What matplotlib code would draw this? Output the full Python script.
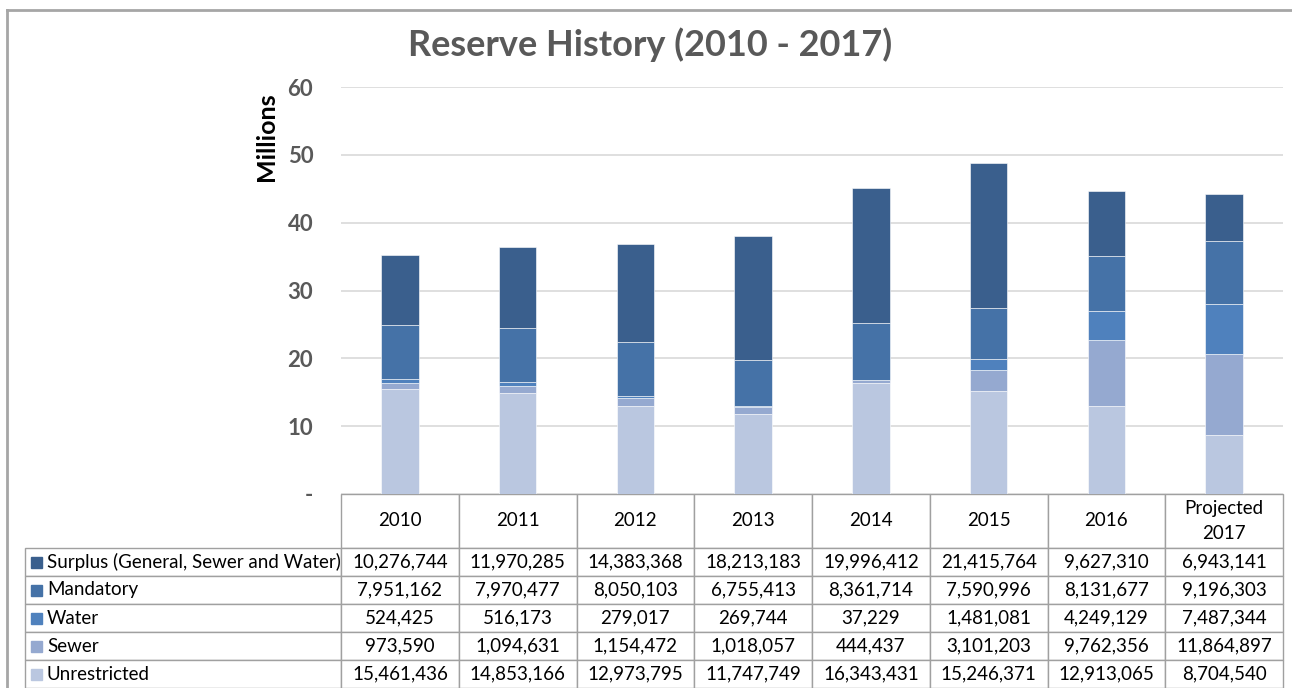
import matplotlib.pyplot as plt
import numpy as np
from matplotlib.table import Table
from matplotlib.patches import Rectangle
from matplotlib.lines import Line2D

plt.rcParams['font.family'] = ['Lato', 'DejaVu Sans']

anos = ['2010', '2011', '2012', '2013', '2014', '2015', '2016', 'Projected\n2017']

# reservas por categoria (dolares)
surplus = [10276744, 11970285, 14383368, 18213183, 19996412, 21415764, 9627310, 6943141]
mandatory = [7951162, 7970477, 8050103, 6755413, 8361714, 7590996, 8131677, 9196303]
water = [524425, 516173, 279017, 269744, 37229, 1481081, 4249129, 7487344]
sewer = [973590, 1094631, 1154472, 1018057, 444437, 3101203, 9762356, 11864897]
unrestricted = [15461436, 14853166, 12973795, 11747749, 16343431, 15246371, 12913065, 8704540]

nomes = ['Surplus (General, Sewer and Water)', 'Mandatory', 'Water', 'Sewer', 'Unrestricted']
cores = ['#3A5F8D', '#4572A7', '#4F81BD', '#95A9D0', '#BAC7E0']
series = [surplus, mandatory, water, sewer, unrestricted]

fig = plt.figure(figsize=(12.92, 6.88), dpi=100)
ax = fig.add_axes([341 / 1292, 1 - 494 / 688, 942 / 1292, 407 / 688])

x = np.arange(len(anos))
base = np.zeros(len(anos))
# empilha de baixo para cima: unrestricted primeiro
for nome, cor, vals in zip(nomes[::-1], cores[::-1], series[::-1]):
    v = np.array(vals) / 1e6
    ax.bar(x, v, 0.32, bottom=base, color=cor, edgecolor='white', linewidth=0.4, zorder=3)
    base = base + v

ax.set_xlim(-0.5, len(anos) - 0.5)
ax.set_ylim(0, 60)
ax.set_yticks(range(0, 70, 10))
ax.set_yticklabels(['-', '10', '20', '30', '40', '50', '60'])
ax.tick_params(axis='y', length=0, pad=20, labelsize=16, labelcolor='#595959')
for t in ax.get_yticklabels():
    t.set_fontweight('bold')
ax.set_xticks([])
ax.yaxis.grid(True, color='#D9D9D9', linewidth=1.2, zorder=0)
for s in ax.spines.values():
    s.set_visible(False)

fig.text(266 / 1292, 1 - 137 / 688, 'Millions', rotation=90, ha='center', va='center',
         fontsize=18, fontweight='bold', color='black')
fig.text(650 / 1292, 1 - 45 / 688, 'Reserve History (2010 - 2017)', ha='center', va='center',
         fontsize=26, fontweight='bold', color='#595959')

# tabela de dados embaixo do grafico (bbox so cobre as colunas de dados)
larg_rot = 316 / 942
larg_col = 1 / len(anos)
alt_cab = 54 / 407
alt_lin = 28 / 407
alt_tab = alt_cab + 5 * alt_lin
tab = Table(ax, bbox=[0, -alt_tab, 1, alt_tab])
borda = '#A0A0A0'
for j, ano in enumerate(anos):
    c = tab.add_cell(0, j, larg_col, alt_cab, text=ano, loc='center', edgecolor=borda)
    c.get_text().set_linespacing(1.6)
for i, (nome, vals) in enumerate(zip(nomes, series)):
    c = tab.add_cell(i + 1, -1, larg_rot, alt_lin, text=nome, loc='left', edgecolor=borda)
    c.PAD = 22 / 316
    for j, v in enumerate(vals):
        tab.add_cell(i + 1, j, larg_col, alt_lin, text=f'{v:,}', loc='center', edgecolor=borda)
tab.auto_set_font_size(False)
tab.set_fontsize(13.5)
ax.add_table(tab)

# quadradinhos da legenda
for i, cor in enumerate(cores):
    yc = -(alt_cab + (i + 0.5) * alt_lin)
    ax.add_patch(Rectangle((-larg_rot + 6 / 942, yc - 5.5 / 407), 11 / 942, 11 / 407,
                           transform=ax.transAxes, color=cor, clip_on=False))

# moldura
fig.add_artist(Line2D([7 / 1292, 1], [1 - 10 / 688, 1 - 10 / 688], color='#A6A6A6', lw=2))
fig.add_artist(Line2D([7 / 1292, 7 / 1292], [0, 1 - 10 / 688], color='#A6A6A6', lw=2))

fig.savefig('out.png', dpi=100)
